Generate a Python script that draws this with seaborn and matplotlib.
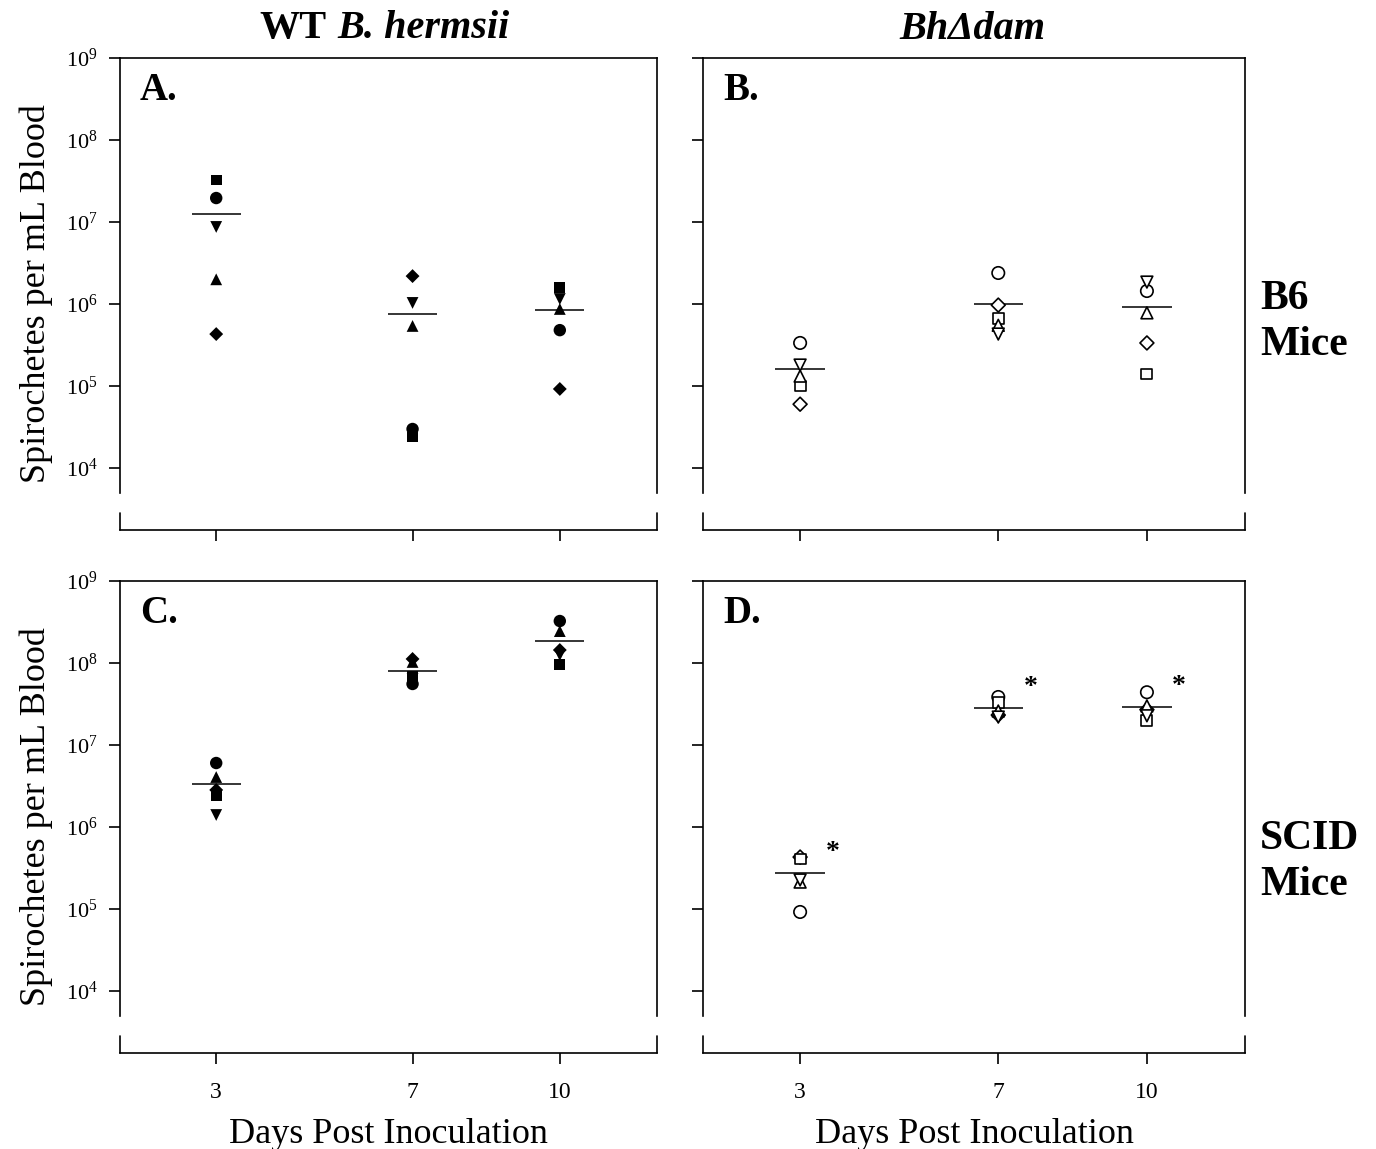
import matplotlib
matplotlib.use('Agg')
import numpy as np
import pandas as pd
import matplotlib.pyplot as plt
import seaborn as sns
from matplotlib.ticker import FixedLocator, NullLocator

# days post inoculation and one marker per mouse
days = [3, 7, 10]
mice = ['D', 'o', 's', '^', 'v']

# spirochetes per mL blood, one row per day, columns follow `mice`
wt_b6 = [[4.3e5, 1.96e7, 3.25e7, 2.0e6, 8.7e6],
         [2.19e6, 2.99e4, 2.39e4, 5.4e5, 1.03e6],
         [9.2e4, 4.8e5, 1.61e6, 8.7e5, 1.15e6]]
dam_b6 = [[6.0e4, 3.35e5, 1.0e5, 1.32e5, 1.80e5],
          [9.7e5, 2.39e6, 6.6e5, 5.5e5, 4.3e5],
          [3.35e5, 1.44e6, 1.4e5, 7.8e5, 1.85e6]]
wt_scid = [[2.83e6, 6.03e6, 2.45e6, 4.07e6, 1.40e6],
           [1.12e8, 5.55e7, 6.93e7, 1.03e8, 6.38e7],
           [1.44e8, 3.25e8, 9.5e7, 2.45e8, 1.25e8]]
dam_scid = [[4.3e5, 9.2e4, 4.07e5, 2.13e5, 2.26e5],
            [2.32e7, 3.85e7, 3.34e7, 2.6e7, 2.19e7],
            [2.7e7, 4.4e7, 2.0e7, 3.0e7, 2.27e7]]

row_titles = ["B6\nMice", "SCID\nMice"]
letters = ["A.", "B.", "C.", "D."]
ylabel = "Spirochetes per mL Blood"
xlabel = "Days Post Inoculation"

sns.set_style('ticks')
plt.rcParams['font.family'] = ['Liberation Serif', 'DejaVu Serif']
plt.rcParams['mathtext.fontset'] = 'custom'
plt.rcParams['mathtext.rm'] = 'Liberation Serif'
plt.rcParams['mathtext.it'] = 'Liberation Serif:italic'
plt.rcParams['mathtext.bf'] = 'Liberation Serif:bold'
for key in ['text.color', 'axes.labelcolor', 'xtick.color', 'ytick.color', 'axes.edgecolor']:
    plt.rcParams[key] = 'black'


def to_frame(values):
    rows = []
    for d, vals in zip(days, values):
        for m, v in zip(mice, vals):
            rows.append({'day': d, 'mouse': m, 'count': v})
    return pd.DataFrame(rows)


fig = plt.figure(figsize=(13.76, 11.49), dpi=100)
W, H = 1376, 1149
lefts = [120, 703]
widths = [537, 542]
bottoms = [530, 1053]
ax_h = 472

ylo, yspine = 10 ** 3.244, 10 ** 3.695
panels = [wt_b6, dam_b6, wt_scid, dam_scid]

for i, values in enumerate(panels):
    r, c = divmod(i, 2)
    ax = fig.add_axes([lefts[c] / W, 1 - bottoms[r] / H, widths[c] / W, ax_h / H])
    df = to_frame(values)
    filled = c == 0
    sns.scatterplot(data=df, x='day', y='count', style='mouse', size='mouse',
                    markers={m: m for m in mice}, style_order=mice,
                    sizes={'o': 80, 's': 62, '^': 72, 'v': 72, 'D': 50},
                    size_order=mice,
                    color='black' if filled else 'white', edgecolor='black',
                    linewidth=0 if filled else 1.2, legend=False, ax=ax, zorder=3)
    # group mean
    means = np.mean(values, axis=1)
    ax.hlines(means, np.array(days) - 0.5, np.array(days) + 0.5,
              color='black', lw=1.1, zorder=2)
    if r == 1 and c == 1:
        for d, m in zip(days, means):
            ax.text(d + 0.65, m * 10 ** 0.25, '*', fontsize=20, fontweight='bold',
                    ha='center', va='center')

    ax.set_yscale('log')
    ax.set_ylim(ylo, 1e9)
    ax.set_xlim(1.04, 11.98)
    ax.set_xticks(days)
    ax.set_xticklabels([str(d) for d in days])
    ax.yaxis.set_major_locator(FixedLocator([1e4, 1e5, 1e6, 1e7, 1e8, 1e9]))
    ax.yaxis.set_minor_locator(NullLocator())
    ax.xaxis.set_minor_locator(NullLocator())
    for s in ax.spines.values():
        s.set_color('black')
        s.set_linewidth(1.2)
    # broken axes: y spines stop above the separate x axis
    ax.spines['left'].set_bounds(yspine, 1e9)
    ax.spines['right'].set_bounds(yspine, 1e9)
    for xe in ax.get_xlim():
        ax.axvline(xe, ymin=0, ymax=0.036, color='black', lw=1.2, clip_on=False)
    ax.tick_params(axis='both', direction='out', length=8, width=1.2,
                   color='black', labelcolor='black')
    ax.tick_params(axis='y', labelsize=16, pad=8)
    ax.tick_params(axis='x', labelsize=17, pad=13)
    ax.set_xlabel('')
    ax.set_ylabel('')
    if c == 0:
        ax.set_ylabel(ylabel, fontsize=26, labelpad=9)
    else:
        ax.tick_params(axis='y', labelleft=False)
    if r == 0:
        ax.tick_params(axis='x', labelbottom=False)
    else:
        ax.set_xlabel(xlabel, fontsize=26, labelpad=11)
    ax.text(0.037, 0.932, letters[i], transform=ax.transAxes, fontsize=28,
            fontweight='bold', ha='left', va='center')

fig.text(259 / W, 1 - 38 / H, "WT", fontsize=29, fontweight='bold',
         ha='left', va='baseline')
fig.text(337 / W, 1 - 38 / H, "B. hermsii", fontsize=29, fontweight='bold',
         fontstyle='italic', ha='left', va='baseline')
fig.text(972 / W, 1 - 39 / H, "Bh\u0394dam", fontsize=29, fontweight='bold',
         fontstyle='italic', ha='center', va='baseline')
fig.text(1260 / W, 1 - 322 / H, row_titles[0], fontsize=30, fontweight='bold',
         ha='left', va='center', linespacing=1.3)
fig.text(1260 / W, 1 - 862 / H, row_titles[1], fontsize=30, fontweight='bold',
         ha='left', va='center', linespacing=1.3)

fig.savefig('out.png', dpi=100)
